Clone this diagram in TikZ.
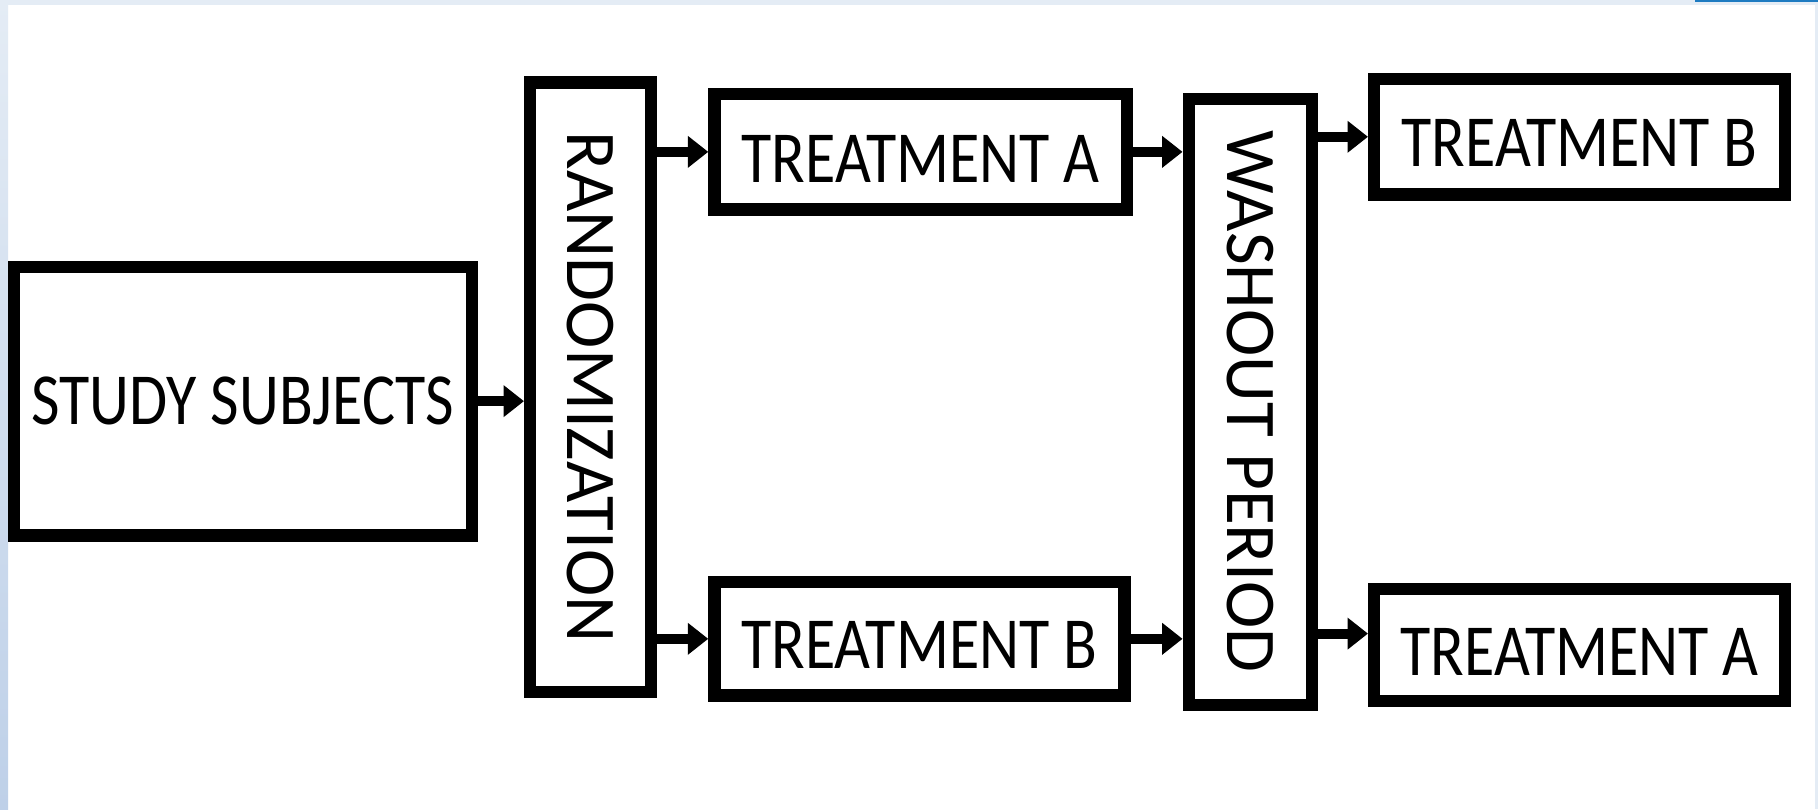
\documentclass[tikz,border=0pt]{standalone}
\usepackage{fontspec}
\setmainfont{Carlito}
\newfontfamily\narrowfont[FakeStretch=0.845]{Carlito}
\usetikzlibrary{arrows.meta}

\definecolor{framegray}{HTML}{E4ECF5}
\definecolor{framelow}{HTML}{BED0E8}
\definecolor{barblue}{HTML}{1E7BC1}

\tikzset{
  stage/.style={draw, line width=3pt, fill=white, inner sep=0pt,
    font=\narrowfont\fontsize{18pt}{20pt}\selectfont},
  phase/.style={draw, line width=3pt, fill=white, inner sep=0pt,
    font=\fontsize{17.5pt}{20pt}\selectfont},
  flow/.style={line width=2.5pt, -{Triangle[length=5pt,width=7.5pt]}},
}

\begin{document}
\begin{tikzpicture}[x=0.01cm, y=-0.01cm]
  % frame
  \useasboundingbox (0,0) rectangle (1568,698);
  \fill[white] (0,0) rectangle (1568,698);
  \shade[top color=framegray, bottom color=framelow] (0,0) rectangle (7,698);
  \fill[framegray] (0,0) rectangle (1568,4.5);
  \fill[framegray] (1565.5,0) rectangle (1568,698);
  \fill[barblue] (1462,0) rectangle (1568,1.8);
  % boxes
  \node[stage, minimum width=3.945cm, minimum height=2.315cm] (subj) at (209.5,346) {STUDY SUBJECTS};
  \node[phase, minimum width=1.045cm, minimum height=5.255cm] (rand) at (509.5,334) {\rotatebox{-90}{RANDOMIZATION}};
  \node[stage, minimum width=3.555cm, minimum height=0.995cm, text height=0.52cm, text depth=0pt] (treatA1) at (794,131) {TREATMENT A};
  \node[stage, minimum width=3.535cm, minimum height=0.975cm, text height=0.52cm, text depth=0pt] (treatB1) at (793,551) {TREATMENT B};
  \node[phase, minimum width=1.065cm, minimum height=5.225cm] (wash) at (1078.5,346.5) {\rotatebox{-90}{WASHOUT PERIOD}};
  \node[stage, minimum width=3.545cm, minimum height=0.995cm, text height=0.52cm, text depth=0pt] (treatB2) at (1362.5,118) {TREATMENT B};
  \node[stage, minimum width=3.545cm, minimum height=0.965cm, text height=0.52cm, text depth=0pt] (treatA2) at (1362.5,556.5) {TREATMENT A};
  % arrows
  \draw[flow] (subj.east) -- (subj.east -| rand.west);
  \draw[flow] (treatA1.west -| rand.east) -- (treatA1.west);
  \draw[flow] (treatB1.west -| rand.east) -- (treatB1.west);
  \draw[flow] (treatA1.east) -- (treatA1.east -| wash.west);
  \draw[flow] (treatB1.east) -- (treatB1.east -| wash.west);
  \draw[flow] (treatB2.west -| wash.east) -- (treatB2.west);
  \draw[flow] ([yshift=0.1cm]treatA2.west -| wash.east) -- ([yshift=0.1cm]treatA2.west);
\end{tikzpicture}
\end{document}
